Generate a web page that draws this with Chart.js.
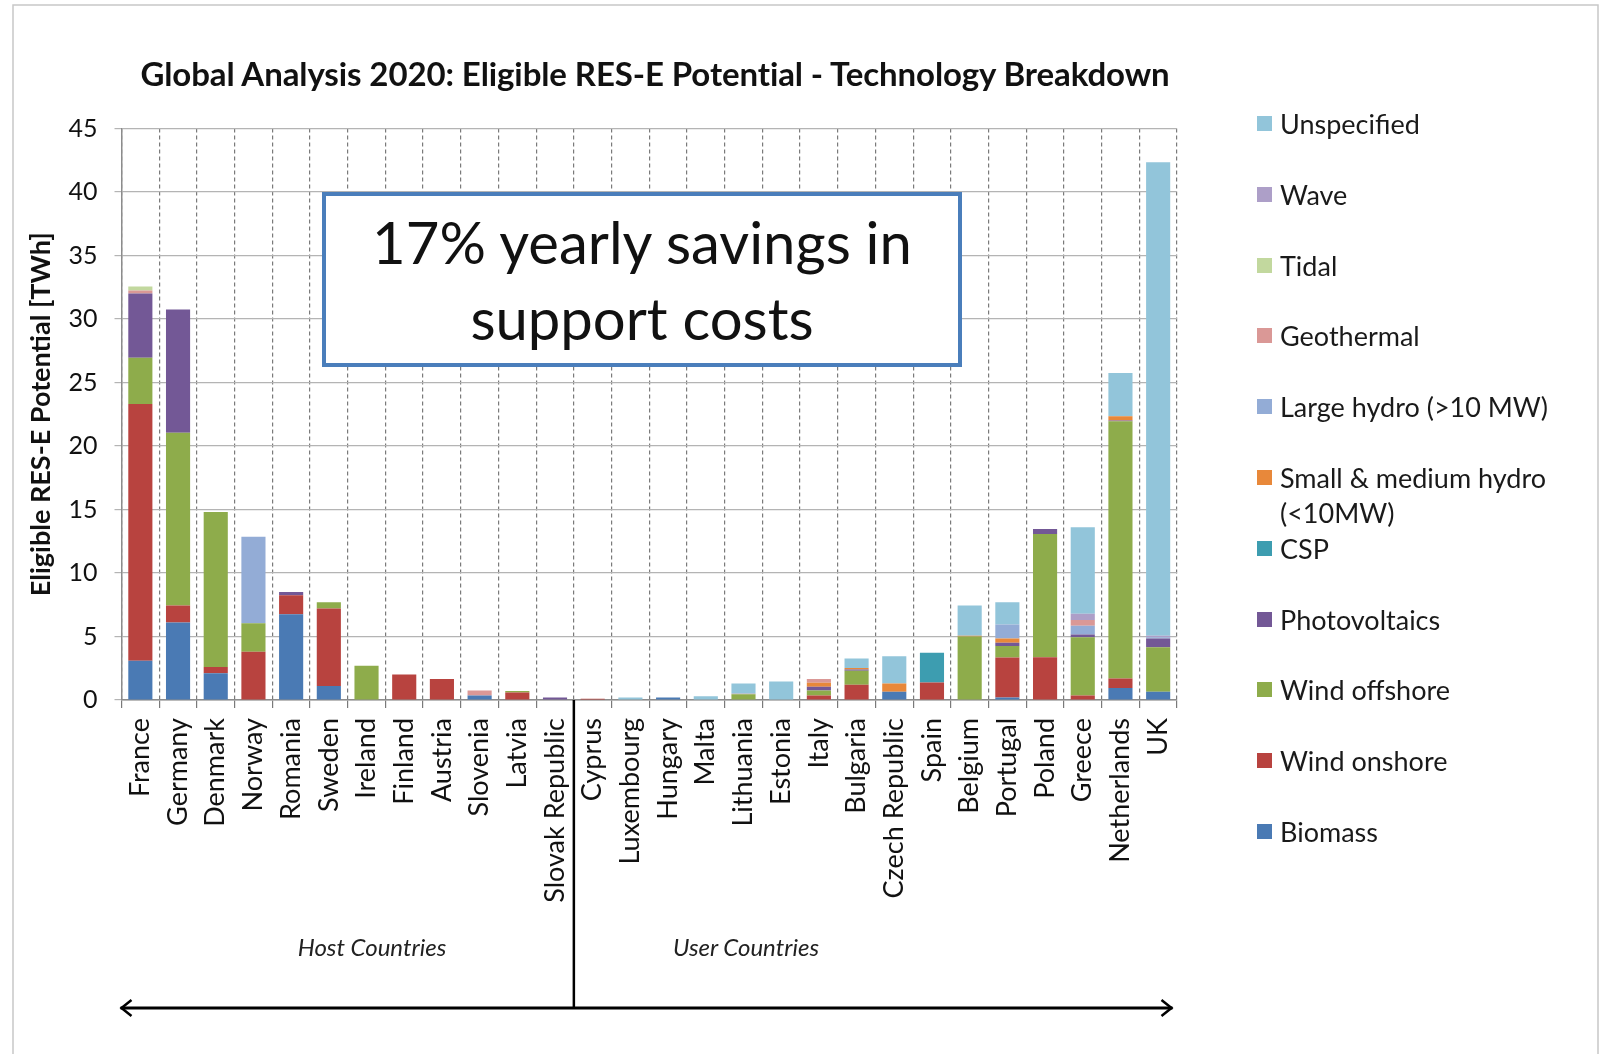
<!DOCTYPE html>
<html><head><meta charset="utf-8">
<script src="https://cdn.jsdelivr.net/npm/chart.js@4"></script>
<style>
html,body{margin:0;padding:0;background:#fff;}
#wrap{position:relative;width:1601px;height:1054px;overflow:hidden;font-family:Lato,"Open Sans",sans-serif;color:#111;}
canvas{position:absolute;left:0;top:0;}
.abs{position:absolute;white-space:nowrap;}
#title{left:655px;top:73px;transform:translate(-50%,-50%);font-weight:bold;font-size:33px;letter-spacing:-0.1px;}
#box{left:322px;top:192px;width:632px;height:167px;border:4px solid #4a7ebb;background:#fff;text-align:center;font-size:58px;line-height:76px;display:flex;align-items:center;justify-content:center;}
.grp{transform:translate(-50%,-50%);font-style:italic;font-size:24px;color:#222;}
.sw{position:absolute;width:15px;height:15px;}
.lt{position:absolute;font-size:27px;line-height:35px;color:#1a1a1a;}
</style></head><body>
<div id="wrap">
<canvas id="c" width="1601" height="1054"></canvas>
<div class="abs" id="title">Global Analysis 2020: Eligible RES-E Potential - Technology Breakdown</div>
<div class="abs" id="box"><div>17% yearly savings in<br>support costs</div></div>
<div class="abs grp" style="left:372px;top:946px">Host Countries</div>
<div class="abs grp" style="left:746px;top:946px">User Countries</div>
<div id="legend"></div>
</div>
<script>
const countries = ["France","Germany","Denmark","Norway","Romania","Sweden","Ireland","Finland","Austria","Slovenia","Latvia","Slovak Republic","Cyprus","Luxembourg","Hungary","Malta","Lithuania","Estonia","Italy","Bulgaria","Czech Republic","Spain","Belgium","Portugal","Poland","Greece","Netherlands","UK"];
const hostCount = 12;
const yTicks = [0,5,10,15,20,25,30,35,40,45];

const biomass      = [3.1,6.1,2.1,0,6.75,1.1,0,0,0,0.35,0,0,0,0,0.2,0,0,0,0,0,0.65,0,0,0.2,0,0,0.95,0.65];
const windOnshore  = [20.2,1.35,0.5,3.8,1.5,6.1,0,2.0,1.65,0,0.6,0,0.1,0,0,0,0,0,0.35,1.2,0,1.37,0,3.15,3.37,0.35,0.75,0];
const windOffshore = [3.65,13.6,12.2,2.25,0,0.5,2.7,0,0,0,0.1,0,0,0,0,0,0.45,0,0.4,1.1,0,0,5.0,0.9,9.7,4.6,20.25,3.5];
const photovoltaics= [5.05,9.7,0,0,0.25,0,0,0,0,0,0,0.2,0,0,0,0,0,0,0.3,0.1,0,0,0,0.25,0.4,0.2,0.05,0.7];
const csp          = [0,0,0,0,0,0,0,0,0,0,0,0,0,0,0,0,0,0,0,0,0,2.35,0,0,0,0,0,0];
const smallHydro   = [0,0,0,0,0,0,0,0,0,0,0,0,0,0,0,0,0,0,0.3,0.12,0.65,0,0.05,0.35,0,0,0.35,0];
const largeHydro   = [0,0,0,6.8,0,0,0,0,0,0,0,0,0,0,0,0,0,0,0,0,0,0,0,1.1,0,0.7,0,0.1];
const geothermal   = [0.25,0,0,0,0,0,0,0,0,0.4,0,0,0,0,0,0,0.05,0,0.3,0,0,0,0,0,0,0.45,0,0];
const tidal        = [0.3,0,0,0,0,0,0,0,0,0,0,0,0,0,0,0,0,0,0,0,0,0,0,0,0,0,0,0];
const wave         = [0,0,0,0,0,0,0,0,0,0,0,0,0,0,0,0,0,0,0,0,0,0,0,0,0,0.5,0,0.1];
const unspecified  = [0,0,0,0,0,0,0,0,0,0,0,0,0,0.2,0,0.3,0.8,1.45,0,0.75,2.15,0,2.4,1.75,0,6.8,3.4,37.3];

const seriesNames  = ["Biomass","Wind onshore","Wind offshore","Photovoltaics","CSP","Small & medium hydro (<10MW)","Large hydro (>10 MW)","Geothermal","Tidal","Wave","Unspecified"];
const seriesData   = [biomass,windOnshore,windOffshore,photovoltaics,csp,smallHydro,largeHydro,geothermal,tidal,wave,unspecified];
const seriesColors = ["#4a7ab4","#b8433f","#8eac4b","#735896","#3d9db0","#e8883a","#93acd6","#da9896","#c2d89e","#ad9fc8","#92c5da"];

const datasets = seriesNames.map((n,i)=>({label:n,data:seriesData[i],backgroundColor:seriesColors[i],borderWidth:0,barPercentage:0.64,categoryPercentage:1.0}));

// legend (reverse order, as in reference)
const leg = document.getElementById('legend');
const legendLines = {"Small & medium hydro (<10MW)":"Small &amp; medium hydro<br>(&lt;10MW)"};
seriesNames.slice().reverse().forEach((n,k)=>{
  const i = seriesNames.length-1-k;
  const yc = 123.5 + k*70.8;
  const sw = document.createElement('div'); sw.className='sw';
  sw.style.left='1257px'; sw.style.top=(yc-7.5)+'px'; sw.style.background=seriesColors[i];
  leg.appendChild(sw);
  const t = document.createElement('div'); t.className='lt';
  t.style.left='1280px'; t.style.top=(yc-17.5)+'px';
  t.innerHTML = legendLines[n] || n.replace('&','&amp;').replace('>','&gt;');
  leg.appendChild(t);
});

const deco = {
  id:'deco',
  afterDraw(chart){
    const {ctx, chartArea:a, scales:{x}} = chart;
    ctx.save();
    ctx.strokeStyle='#c8c8c8'; ctx.lineWidth=1.5;
    ctx.beginPath(); ctx.moveTo(13,1054); ctx.lineTo(13,5); ctx.lineTo(1598,5); ctx.lineTo(1598,1054); ctx.stroke();
    const dx = (x.getPixelForValue(hostCount-1)+x.getPixelForValue(hostCount))/2;
    ctx.strokeStyle='#000'; ctx.lineWidth=2.5;
    ctx.beginPath(); ctx.moveTo(dx,a.bottom); ctx.lineTo(dx,1008); ctx.stroke();
    const l=a.left-1, r=a.right-4.5, y=1008;
    ctx.lineWidth=3;
    ctx.beginPath(); ctx.moveTo(l,y); ctx.lineTo(r,y); ctx.stroke();
    ctx.lineWidth=2.5;
    ctx.beginPath(); ctx.moveTo(l+11,y-8); ctx.lineTo(l+1,y); ctx.lineTo(l+11,y+8); ctx.stroke();
    ctx.beginPath(); ctx.moveTo(r-11,y-8); ctx.lineTo(r-1,y); ctx.lineTo(r-11,y+8); ctx.stroke();
    ctx.restore();
  }
};

new Chart(document.getElementById('c'), {
  type:'bar',
  data:{labels:countries, datasets},
  plugins:[deco],
  options:{
    responsive:false, animation:false, devicePixelRatio:1,
    layout:{padding:{left:0,right:424,top:128.5,bottom:0}},
    plugins:{legend:{display:false},tooltip:{enabled:false},title:{display:false}},
    scales:{
      x:{stacked:true, offset:true,
        grid:{offset:true,color:'#7a7a7a',lineWidth:1.2,tickLength:8},
        border:{display:true,color:'#8c8c8c',width:1.5,dash:[4,3]},
        ticks:{autoSkip:false,maxRotation:90,minRotation:90,padding:10,color:'#111',font:{family:'Lato',size:27}},
        afterFit(s){s.height=354;}
      },
      y:{stacked:true,min:0,max:45,
        afterBuildTicks(s){s.ticks=yTicks.map(v=>({value:v}));},
        grid:{color:'#b4b4b4',lineWidth:1.2,tickLength:7},
        border:{display:true,color:'#8c8c8c',width:1.5},
        ticks:{padding:17,color:'#111',font:{family:'Lato',size:25}},
        title:{display:true,text:'Eligible RES-E Potential [TWh]',color:'#111',font:{family:'Lato',size:27,weight:'bold'},padding:{top:25,bottom:0}},
        afterFit(s){s.width=121.5;}
      }
    }
  }
});
</script>
</body></html>
